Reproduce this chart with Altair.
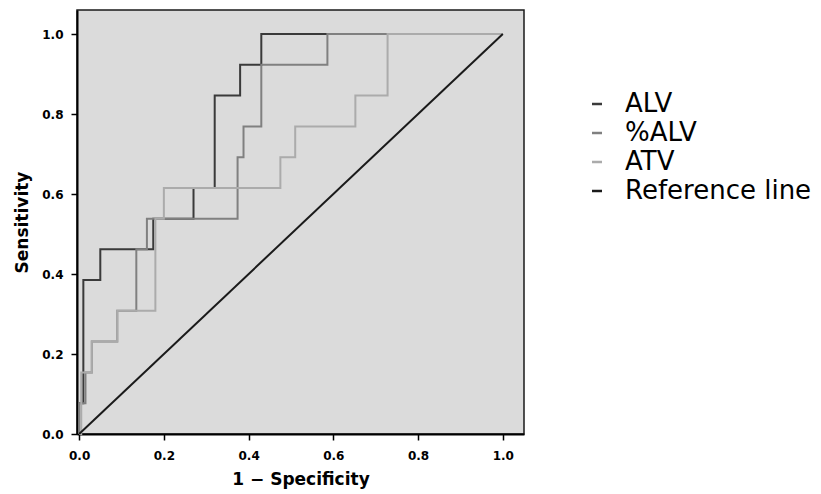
import altair as alt
import pandas as pd

# ROC curve vertices (1 - specificity, sensitivity)
alv_x = [0.0, 0.0, 0.01, 0.05, 0.175, 0.27, 0.32, 0.38, 0.43, 1.0]
alv_y = [0.0, 0.077, 0.385, 0.462, 0.538, 0.615, 0.846, 0.923, 1.0, 1.0]

palv_x = [0.0, 0.0, 0.015, 0.03, 0.09, 0.135, 0.16, 0.374, 0.388, 0.43, 0.586, 1.0]
palv_y = [0.0, 0.077, 0.154, 0.231, 0.308, 0.462, 0.538, 0.692, 0.769, 0.923, 1.0, 1.0]

atv_x = [0.0, 0.005, 0.03, 0.09, 0.18, 0.2, 0.475, 0.51, 0.652, 0.728, 1.0]
atv_y = [0.0, 0.154, 0.231, 0.308, 0.538, 0.615, 0.692, 0.769, 0.846, 1.0, 1.0]

ref_x = [0.0, 1.0]
ref_y = [0.0, 1.0]

series_names = ["ALV", "%ALV", "ATV", "Reference line"]
series_colors = ["#3a3a3a", "#808080", "#ababab", "#1a1a1a"]
tick_values = [0.0, 0.2, 0.4, 0.6, 0.8, 1.0]

rows = []
for name, xs, ys in [("ALV", alv_x, alv_y), ("%ALV", palv_x, palv_y), ("ATV", atv_x, atv_y)]:
    for i, (a, b) in enumerate(zip(xs, ys)):
        rows.append({"series": name, "fpr": a, "tpr": b, "order": i})
roc = pd.DataFrame(rows)
ref = pd.DataFrame({"series": "Reference line", "fpr": ref_x, "tpr": ref_y, "order": [0, 1]})

color = alt.Color(
    "series:N",
    scale=alt.Scale(domain=series_names, range=series_colors),
    legend=alt.Legend(
        title=None,
        orient="none",
        legendX=507,
        legendY=81,
        symbolType="stroke",
        symbolSize=100,
        symbolStrokeWidth=2.5,
        labelFont="DejaVu Sans",
        labelFontSize=26,
        labelColor="black",
        labelBaseline="middle",
        labelOffset=15,
        rowPadding=3,
        padding=0,
        labelLimit=300,
    ),
)

x = alt.X(
    "fpr:Q",
    scale=alt.Scale(domain=[-0.005, 1.05], nice=False, zero=False),
    axis=alt.Axis(title="1 \u2212 Specificity", values=tick_values, format=".1f"),
)
y = alt.Y(
    "tpr:Q",
    scale=alt.Scale(domain=[0, 1.06], nice=False),
    axis=alt.Axis(title="Sensitivity", values=tick_values, format=".1f"),
)

curves = alt.Chart(roc).mark_line(interpolate="step-after", strokeWidth=2).encode(
    x=x, y=y, color=color, order="order:O"
)
refline = alt.Chart(ref).mark_line(strokeWidth=2).encode(
    x=x, y=y, color=color, order="order:O"
)

chart = (
    alt.layer(curves, refline)
    .properties(
        width=447,
        height=424,
        autosize=alt.AutoSizeParams(type="none"),
        padding={"left": 77, "top": 10, "right": 297, "bottom": 60},
        background="white",
    )
    .configure_view(fill="#dbdbdb", stroke="#1a1a1a", strokeWidth=1.5)
    .configure_axis(
        domainColor="black",
        domainWidth=2,
        tickColor="black",
        tickSize=6,
        tickWidth=1.5,
        grid=False,
        labelFont="DejaVu Sans",
        labelFontWeight="bold",
        labelFontSize=12,
        labelColor="black",
        titleFont="DejaVu Sans",
        titleFontWeight="bold",
        titleFontSize=17,
        titleColor="black",
    )
    .configure_axisX(labelPadding=10, titlePadding=10)
    .configure_axisY(labelPadding=8, titlePadding=10)
)

chart.save("out.html", embed_options={"renderer": "svg", "actions": False})
